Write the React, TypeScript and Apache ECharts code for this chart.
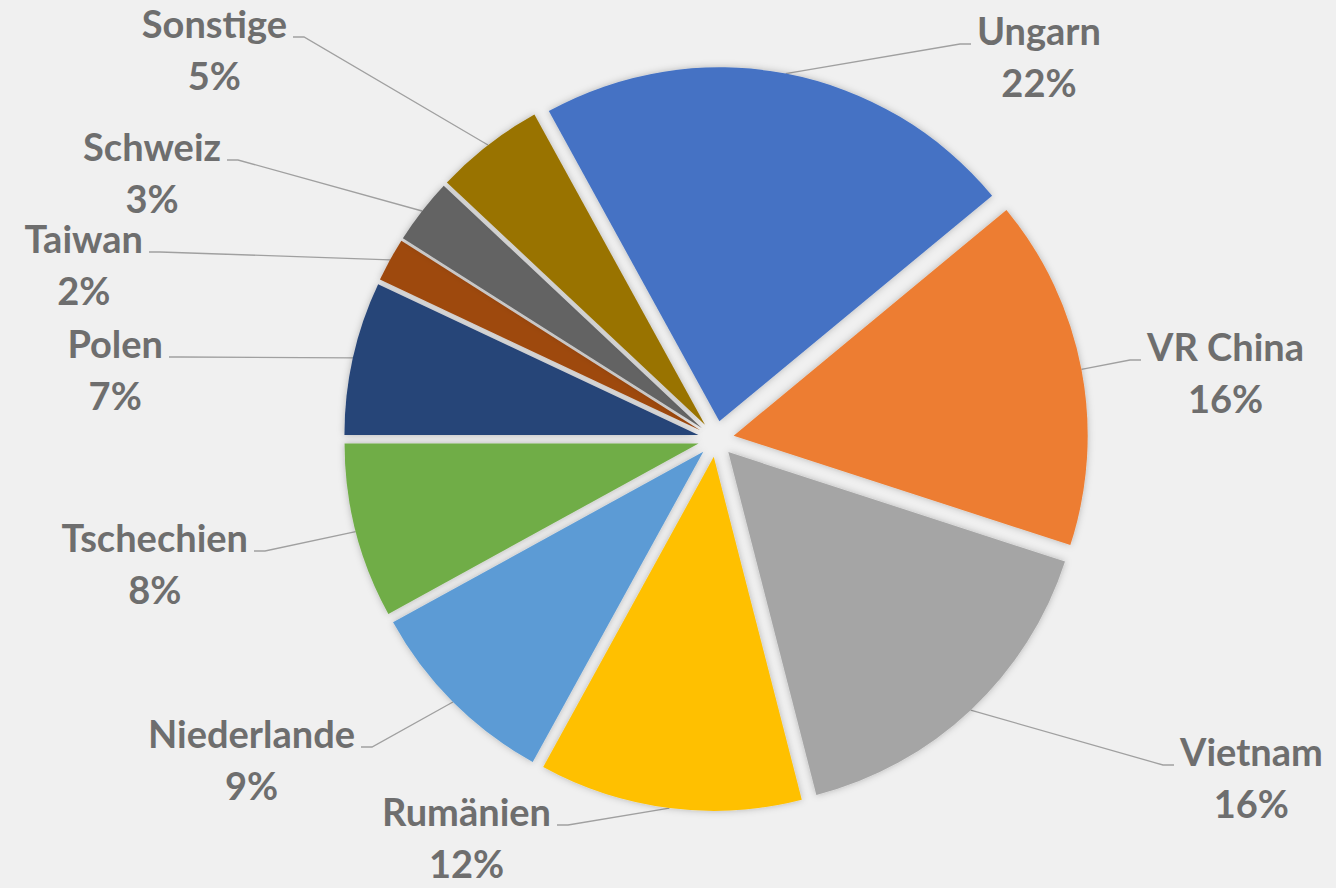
import React, { useEffect, useRef } from "react";
import * as echarts from "echarts";

const names = ["Ungarn", "VR China", "Vietnam", "Rumänien", "Niederlande", "Tschechien", "Polen", "Taiwan", "Schweiz", "Sonstige"];
const shares = [22, 16, 16, 12, 9, 8, 7, 2, 3, 5];
const colors = ["#4472C4", "#ED7D31", "#A5A5A5", "#FFC000", "#5B9BD5", "#70AD47", "#264478", "#9E480E", "#636363", "#997300"];

// label layout: end point of each leader line (next to the text) and the side the text sits on
const LABEL_ANCHORS: [number, number][] = [
  [971, 44],
  [1141, 360],
  [1174, 765],
  [557, 825],
  [361, 747],
  [254, 551],
  [169, 357],
  [149, 252],
  [227, 160],
  [293, 37],
];
const LABEL_SIDE = ["right", "right", "right", "left", "left", "left", "left", "left", "left", "left"];

const FONT = "Lato";
const LABEL_COLOR = "#6e6e6e";
const TICK = 11;
const TEXT_GAP = 6;
const BASELINE = 40;

const CX = 716;
const CY = 439;
const RADIUS = 354;
const EXPLODE = 18;
const START_DEG = -28.8; // clockwise from 12 o'clock

export default function App() {
  const ref = useRef<HTMLDivElement>(null);
  useEffect(() => {
    if (!ref.current) return;
    const chart = echarts.init(ref.current, undefined, { renderer: "svg" });
    const total = shares.reduce((a, b) => a + b, 0);
    let cum = 0;
    const series = names.map((name, i) => {
      const mid = START_DEG + ((cum + shares[i] / 2) / total) * 360;
      cum += shares[i];
      const rad = (mid * Math.PI) / 180;
      const center = [CX + EXPLODE * Math.sin(rad), CY - EXPLODE * Math.cos(rad)];
      return {
        type: "pie",
        name,
        center,
        radius: [0, RADIUS],
        startAngle: 90 - START_DEG,
        clockwise: true,
        avoidLabelOverlap: false,
        silent: true,
        emphasis: { disabled: true },
        data: names.map((n, j) => ({
          name: n,
          value: shares[j],
          itemStyle:
            j === i
              ? { color: colors[j], shadowBlur: 7, shadowColor: "rgba(0,0,0,0.25)" }
              : { color: "rgba(0,0,0,0)" },
          label: { show: j === i },
          labelLine: { show: j === i },
        })),
        label: {
          position: "outside",
          formatter: (p: any) => `{n|${p.name}}\n{n|${Math.round(p.percent)}%}`,
          rich: {
            n: {
              align: "center",
              fontFamily: FONT,
              fontWeight: "bold",
              fontSize: 38,
              lineHeight: 52,
              color: LABEL_COLOR,
            },
          },
        },
        labelLine: {
          length: 30,
          length2: 12,
          lineStyle: { color: "#a0a0a0", width: 1.3 },
        },
        labelLayout: (params: any) => {
          const k = params.dataIndex;
          const [ax, ay] = LABEL_ANCHORS[k];
          const right = LABEL_SIDE[k] === "right";
          const start = params.labelLinePoints ? params.labelLinePoints[0] : [ax, ay];
          const bend = [right ? ax - TICK : ax + TICK, ay];
          return {
            x: right ? ax + TEXT_GAP : ax - TEXT_GAP,
            y: ay - BASELINE,
            align: right ? "left" : "right",
            verticalAlign: "top",
            labelLinePoints: [start, bend, [ax, ay]],
          };
        },
      };
    });
    chart.setOption({
      animation: false,
      backgroundColor: "#f0f0f0",
      series,
    });
    return () => chart.dispose();
  }, []);
  return <div ref={ref} style={{ position: "fixed", left: 0, top: 0, width: 1336, height: 888 }} />;
}
